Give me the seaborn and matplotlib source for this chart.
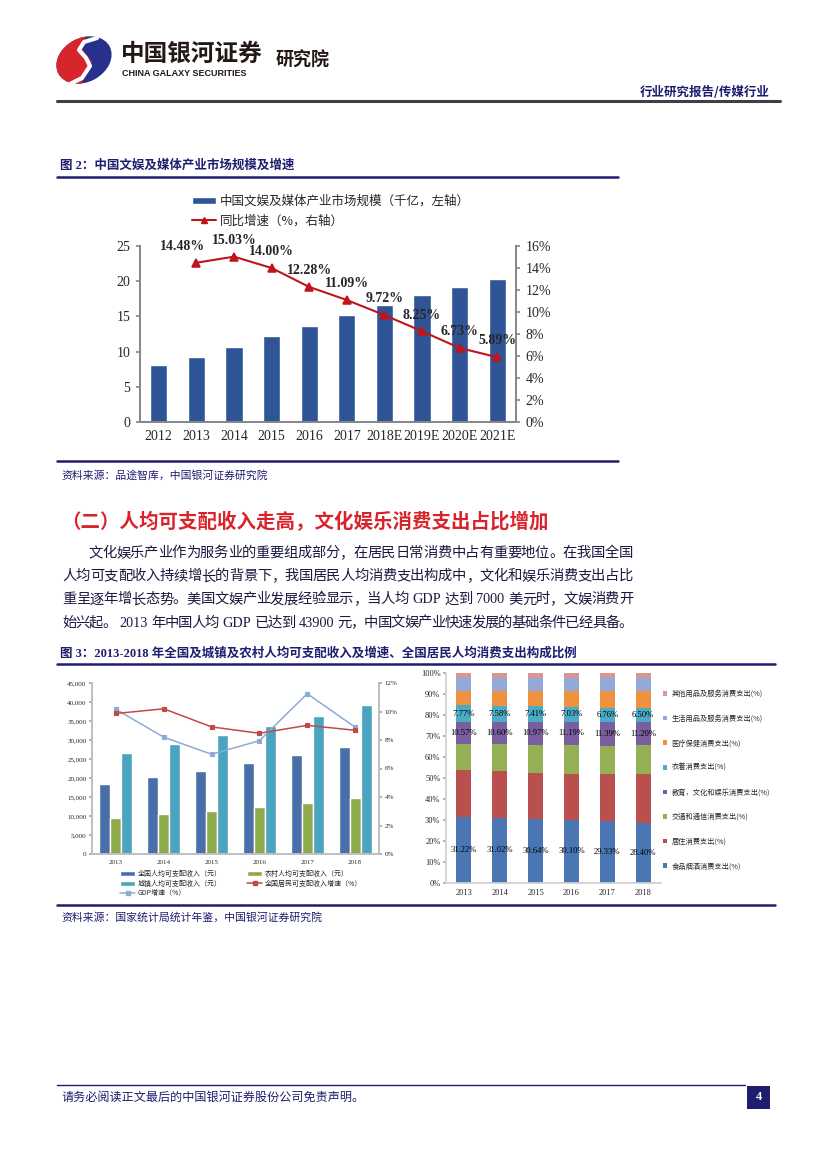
import re
import numpy as np
import pandas as pd
import matplotlib
matplotlib.use('Agg')
import matplotlib.pyplot as plt
import seaborn as sns
from matplotlib.patches import Ellipse, Polygon, Rectangle
from matplotlib.lines import Line2D
from matplotlib.ticker import FuncFormatter

# ---- 图2 数据 ----
years2 = ['2012', '2013', '2014', '2015', '2016', '2017', '2018E', '2019E', '2020E', '2021E']
size2 = [8.07, 9.2, 10.6, 12.15, 13.6, 15.15, 16.6, 18.0, 19.15, 20.3]
growth2 = [14.48, 15.03, 14.00, 12.28, 11.09, 9.72, 8.25, 6.73, 5.89]   # 2013 起

# ---- 图3 左：人均可支配收入 ----
years3 = ['2013', '2014', '2015', '2016', '2017', '2018']
income_all = [18311, 20167, 21966, 23821, 25974, 28228]
income_rural = [9430, 10489, 11422, 12363, 13432, 14617]
income_urban = [26467, 28844, 31195, 33616, 36396, 39251]
income_growth = [9.86, 10.19, 8.92, 8.47, 9.03, 8.68]
gdp_growth = [10.15, 8.2, 7.0, 7.95, 11.25, 8.9]

# ---- 图3 右：消费支出构成（%） ----
food = [31.22, 31.02, 30.64, 30.10, 29.33, 28.40]
housing = [22.7, 22.1, 21.8, 21.9, 22.4, 23.6]
transport = [12.3, 12.9, 13.3, 13.7, 13.6, 13.5]
education = [10.57, 10.60, 10.97, 11.19, 11.39, 11.20]
clothing = [7.77, 7.58, 7.41, 7.03, 6.76, 6.50]
medical = [6.9, 7.2, 7.4, 7.6, 7.9, 8.3]
daily = [6.1, 6.1, 6.1, 6.1, 6.1, 6.1]
other = [2.4, 2.5, 2.4, 2.4, 2.5, 2.4]

navy = '#1f1d6e'

sns.set_theme(style='ticks')
plt.rcParams['font.family'] = ['Noto Sans CJK SC', 'DejaVu Sans']
plt.rcParams['axes.unicode_minus'] = False

W, H = 827, 1169
fig = plt.figure(figsize=(W / 100, H / 100), dpi=100)
bg = fig.add_axes([0, 0, 1, 1])
bg.set_xlim(0, W)
bg.set_ylim(H, 0)
bg.axis('off')


def box(x0, y0, x1, y1):
    return [x0 / W, 1 - y1 / H, (x1 - x0) / W, (y1 - y0) / H]


SERIF_CJK = ['Liberation Serif', 'Noto Sans CJK SC']

# ---- 页眉 ----
logo_blue = Ellipse((84, 60), 58, 44, angle=-28, fc='#27318b', ec='none')
bg.add_patch(logo_blue)
logo_red = Ellipse((84, 60), 58, 44, angle=-28, fc='#d7252e', ec='none')
bg.add_patch(logo_red)
clip = Polygon([(45, 25), (94, 25), (80, 46), (92, 62), (76, 95), (45, 95)], closed=True,
               transform=bg.transData)
logo_red.set_clip_path(clip)
bg.plot([97, 84, 79, 86, 90, 82, 70], [38, 42, 50, 58, 66, 78, 84], color='white', lw=3,
        solid_capstyle='round')
bg.text(121, 54, '中国银河证券', fontsize=17, weight='bold', color='#231815', va='center')
bg.text(122, 74, 'CHINA GALAXY SECURITIES', fontsize=6.5, weight='bold', family='Liberation Sans',
        color='#231815', va='center')
bg.text(276, 60, '研究院', fontsize=13, weight='bold', color='#231815', va='center')
bg.text(770, 92, '行业研究报告/传媒行业', fontsize=9, weight='bold', color=navy, ha='right', va='center')
bg.plot([57, 780], [101, 101], color='#404040', lw=2.2)

# ---- 图2 ----
bg.text(60, 166, '图 2：中国文娱及媒体产业市场规模及增速', fontsize=9, weight='bold', color=navy,
        family=SERIF_CJK, va='center')
bg.plot([57, 618], [177, 177], color=navy, lw=1.8)
bg.plot([57, 618], [461, 461], color=navy, lw=1.8)
bg.text(61, 475, '资料来源：品途智库，中国银河证券研究院', fontsize=7.8, color=navy, va='center')

bar_blue = '#2f5597'
line_red = '#c0141c'
ax = fig.add_axes(box(140, 246, 516, 422))
df2 = pd.DataFrame({'year': years2, 'size': size2})
sns.barplot(data=df2, x='year', y='size', color=bar_blue, saturation=1, width=0.46, ax=ax)
ax.set_ylim(0, 25)
ax.set_yticks(range(0, 26, 5))
ax.set(xlabel='', ylabel='')
ax.tick_params(axis='y', labelsize=10, length=3, color='#868686', pad=4)
ax.tick_params(axis='x', labelsize=10, length=0, pad=6)
for lab in ax.get_xticklabels() + ax.get_yticklabels():
    lab.set_family('Liberation Serif')
ax.spines['top'].set_visible(False)
for s in ['left', 'bottom', 'right']:
    ax.spines[s].set_color('#868686')

ax2 = ax.twinx()
dfg = pd.DataFrame({'year': years2[1:], 'growth': growth2})
sns.pointplot(data=dfg, x='year', y='growth', order=years2, color=line_red, markers='^',
              markersize=6, linewidth=1.5, errorbar=None, ax=ax2)
ax2.set_ylim(0, 16)
ax2.set_yticks(range(0, 17, 2))
ax2.yaxis.set_major_formatter(FuncFormatter(lambda v, p: f'{v:.0f}%'))
ax2.set_ylabel('')
ax2.tick_params(axis='y', labelsize=10, length=3, color='#868686', pad=4)
for lab in ax2.get_yticklabels():
    lab.set_family('Liberation Serif')
ax2.spines['top'].set_visible(False)
for s in ['left', 'bottom', 'right']:
    ax2.spines[s].set_color('#868686')
for yr, g in zip(years2[1:], growth2):
    dx = -10 if yr == '2013' else 0
    ax2.annotate(f'{g:.2f}%', (years2.index(yr), g), xytext=(dx, 7), textcoords='offset points',
                 ha='center', va='bottom', fontsize=10, weight='bold', family='Liberation Serif')

h2 = [Rectangle((0, 0), 1, 1, fc=bar_blue),
      Line2D([], [], color=line_red, marker='^', lw=1.5, ms=5)]
ax.legend(h2, ['中国文娱及媒体产业市场规模（千亿，左轴）', '同比增速（%，右轴）'],
          loc='upper left', bbox_to_anchor=(192 / W, 1 - 195 / H), bbox_transform=fig.transFigure,
          frameon=False, fontsize=9, handlelength=1.9, handleheight=0.5, handletextpad=0.3,
          labelspacing=0.5, borderpad=0, borderaxespad=0)

# ---- 小节标题与正文 ----
bg.text(61, 522, '（二）人均可支配收入走高，文化娱乐消费支出占比增加', fontsize=14, weight='bold',
        color='#d9232a', va='center')

body = [
    (88, '文化娱乐产业作为服务业的重要组成部分，在居民日常消费中占有重要地位。在我国全国'),
    (62, '人均可支配收入持续增长的背景下，我国居民人均消费支出构成中，文化和娱乐消费支出占比'),
    (62, '重呈逐年增长态势。美国文娱产业发展经验显示，当人均 GDP 达到 7000 美元时，文娱消费开'),
    (62, '始兴起。2013 年中国人均 GDP 已达到 43900 元，中国文娱产业快速发展的基础条件已经具备。'),
]
renderer = fig.canvas.get_renderer()
for i, (x0, line) in enumerate(body):
    y = 557 + i * 23.2
    toks = re.findall(r'[A-Za-z0-9]+|[^\sA-Za-z0-9]', line)
    arts, widths = [], []
    for t in toks:
        latin = re.match(r'[A-Za-z0-9]', t) is not None
        fam = ['Liberation Serif'] if latin else ['Noto Sans CJK SC']
        a = bg.text(0, y, t, fontsize=10.3, family=fam, color='#1a1a40', va='baseline')
        pad = 4 if latin else 0
        arts.append((a, pad))
        widths.append(a.get_window_extent(renderer).width + 2 * pad)
    gap = (633 - x0 - sum(widths)) / (len(arts) - 1)
    x = x0
    for (a, pad), w in zip(arts, widths):
        a.set_x(x + pad)
        x += w + gap

# ---- 图3 ----
bg.text(60, 653, '图 3：2013-2018 年全国及城镇及农村人均可支配收入及增速、全国居民人均消费支出构成比例',
        fontsize=9, weight='bold', color=navy, family=SERIF_CJK, va='center')
bg.plot([57, 775], [664, 664], color=navy, lw=1.8)
bg.plot([57, 775], [905, 905], color=navy, lw=1.8)
bg.text(61, 917, '资料来源：国家统计局统计年鉴，中国银河证券研究院', fontsize=7.8, color=navy, va='center')

inc_labels = ['全国人均可支配收入（元）', '农村人均可支配收入（元）', '城镇人均可支配收入（元）']
inc_colors = ['#4a6fa8', '#8eaa4c', '#4aa4c0']
inc = pd.DataFrame({'year': years3, inc_labels[0]: income_all, inc_labels[1]: income_rural,
                    inc_labels[2]: income_urban}).melt(id_vars='year', var_name='series', value_name='value')
ax3 = fig.add_axes(box(92, 683, 379, 854))
sns.barplot(data=inc, x='year', y='value', hue='series', hue_order=inc_labels, palette=inc_colors,
            saturation=1, width=0.69, gap=0, ax=ax3)
hb, lb = ax3.get_legend_handles_labels()
ax3.get_legend().remove()
ax3.set_ylim(0, 45000)
ax3.set_yticks(range(0, 45001, 5000))
ax3.yaxis.set_major_formatter(FuncFormatter(lambda v, p: f'{v:,.0f}'))
ax3.set(xlabel='', ylabel='')
ax3.tick_params(axis='both', labelsize=5, length=2, color='#a6a6a6', pad=2)
ax3.tick_params(axis='x', length=0, pad=4)
for lab in ax3.get_xticklabels() + ax3.get_yticklabels():
    lab.set_family('Liberation Serif')
ax3.spines['top'].set_visible(False)
for s in ['left', 'bottom', 'right']:
    ax3.spines[s].set_color('#bfbfbf')

ax4 = ax3.twinx()
g_red = '#be4b48'
g_blue = '#8eaad6'
dfi = pd.DataFrame({'year': years3, 'inc': income_growth, 'gdp': gdp_growth})
sns.pointplot(data=dfi, x='year', y='gdp', order=years3, color=g_blue, markers='s', markersize=3,
              linewidth=1.1, errorbar=None, ax=ax4)
sns.pointplot(data=dfi, x='year', y='inc', order=years3, color=g_red, markers='s', markersize=3,
              linewidth=1.1, errorbar=None, ax=ax4)
ax4.set_ylim(0, 12)
ax4.set_yticks(range(0, 13, 2))
ax4.yaxis.set_major_formatter(FuncFormatter(lambda v, p: f'{v:.0f}%'))
ax4.set_ylabel('')
ax4.tick_params(axis='y', labelsize=5, length=2, color='#a6a6a6', pad=2)
for lab in ax4.get_yticklabels():
    lab.set_family('Liberation Serif')
ax4.spines['top'].set_visible(False)
for s in ['left', 'bottom', 'right']:
    ax4.spines[s].set_color('#bfbfbf')

l_inc = Line2D([], [], color=g_red, marker='s', lw=1.1, ms=2.5)
l_gdp = Line2D([], [], color=g_blue, marker='s', lw=1.1, ms=2.5)
ax3.legend([hb[0], hb[2], l_gdp, hb[1], l_inc],
           [lb[0], lb[2], 'GDP增速（%）', lb[1], '全国居民可支配收入增速（%）'],
           ncol=2, loc='upper left', bbox_to_anchor=(120 / W, 1 - 870 / H), bbox_transform=fig.transFigure,
           frameon=False, fontsize=5, handlelength=2.2, handleheight=0.7, handletextpad=0.4,
           labelspacing=0.25, columnspacing=3.6, borderpad=0, borderaxespad=0)

# 右：构成比例（堆叠）
share_labels = ['其他用品及服务消费支出(%)', '生活用品及服务消费支出(%)', '医疗保健消费支出(%)',
                '衣着消费支出(%)', '教育，文化和娱乐消费支出(%)', '交通和通信消费支出(%)',
                '居住消费支出(%)', '食品烟酒消费支出(%)']
share_vals = [other, daily, medical, clothing, education, transport, housing, food]
share_colors = ['#d99694', '#93a9d8', '#f0913f', '#4bacc6', '#7a5e9f', '#93b154', '#b9504d', '#4a76b4']
share = pd.DataFrame({'year': years3, **dict(zip(share_labels, share_vals))}).melt(
    id_vars='year', var_name='cat', value_name='share')
ax5 = fig.add_axes(box(446, 673, 661, 883))
sns.histplot(data=share, x='year', weights='share', hue='cat', hue_order=share_labels,
             palette=share_colors, multiple='stack', discrete=True, shrink=0.42, alpha=1,
             linewidth=0, ax=ax5)
ax5.set_ylim(0, 100)
ax5.set_xlim(-0.5, len(years3) - 0.5)
ax5.set_yticks(range(0, 101, 10))
ax5.yaxis.set_major_formatter(FuncFormatter(lambda v, p: f'{v:.0f}%'))
ax5.set(xlabel='', ylabel='')
ax5.tick_params(axis='both', labelsize=6, length=2, color='#a6a6a6', pad=2)
ax5.tick_params(axis='x', length=0, pad=4)
for lab in ax5.get_xticklabels() + ax5.get_yticklabels():
    lab.set_family('Liberation Serif')
ax5.spines['top'].set_visible(False)
ax5.spines['right'].set_visible(False)
for s in ['left', 'bottom']:
    ax5.spines[s].set_color('#d0d0d0')

# 数据标签：段中心
bottom_up = share_vals[::-1]
tops = np.cumsum(np.array(bottom_up), axis=0)
for k, vals in enumerate(bottom_up):
    if vals is food or vals is education or vals is clothing:
        centers = tops[k] - np.array(vals) / 2
        for i, (v, c) in enumerate(zip(vals, centers)):
            ax5.text(i, c, f'{v:.2f}%', ha='center', va='center', fontsize=6.2,
                     family='Liberation Serif', color='black')

sns.move_legend(ax5, 'upper left', bbox_to_anchor=(663 / W, 1 - 690 / H), bbox_transform=fig.transFigure,
                frameon=False, title=None, fontsize=5.2, handlelength=0.6, handleheight=0.6,
                handletextpad=0.6, labelspacing=2.3, borderpad=0, borderaxespad=0)

# ---- 页脚 ----
bg.plot([57, 745], [1085, 1085], color=navy, lw=1)
bg.add_patch(Rectangle((747, 1086), 23, 23, fc=navy, ec='none'))
bg.text(758.5, 1097.5, '4', color='white', fontsize=9, weight='bold', family='Liberation Serif',
        ha='center', va='center')
bg.text(61, 1097, '请务必阅读正文最后的中国银河证券股份公司免责声明。', fontsize=8.7, color=navy, va='center')

fig.savefig('out.png', dpi=100)
